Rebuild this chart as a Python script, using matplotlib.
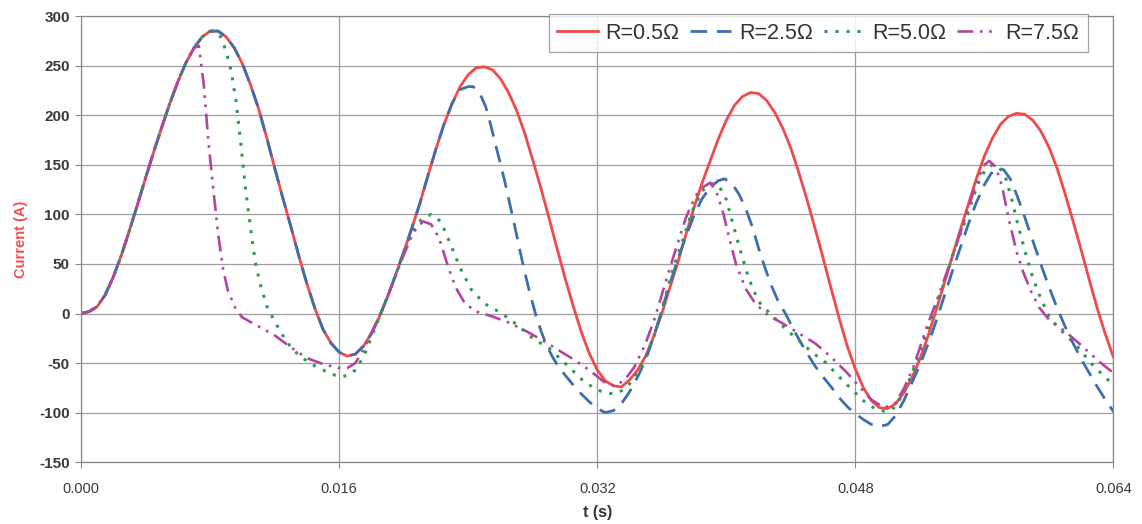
import matplotlib
matplotlib.use("Agg")
import matplotlib.pyplot as plt
import numpy as np
from matplotlib.ticker import FormatStrFormatter, MultipleLocator

plt.rcParams["axes.unicode_minus"] = False

# time samples in ms, current in A
t_r05 = [k * 0.5 for k in range(129)]
i_r05 = [0, 2, 7, 19, 37, 59, 84, 110, 137, 163,
         188, 212, 234, 253, 268, 279, 285, 285, 279, 268,
         252, 231, 207, 178, 147, 117, 88, 58, 30, 5,
         -16, -30, -39, -43, -41, -33, -20, -3, 17, 39,
         62, 86, 111, 139, 166, 191, 212, 229, 241, 248,
         249, 246, 237, 223, 205, 182, 155, 127, 97, 66,
         36, 8, -18, -40, -57, -68, -73, -74, -67, -57,
         -43, -23, 0, 26, 52, 80, 107, 132, 154, 176,
         195, 210, 219, 223, 222, 215, 203, 187, 167, 142,
         115, 86, 56, 25, -5, -33, -56, -75, -88, -95,
         -96, -91, -80, -65, -46, -23, 3, 30, 57, 84,
         110, 136, 159, 177, 191, 199, 202, 201, 195, 184,
         168, 147, 121, 93, 64, 34, 5, -21, -44]

# R=2.5 follows R=0.5 up to 23 ms
t_r25 = t_r05[:47] + [
    23.5, 24, 24.3, 24.7, 25.1, 25.4, 25.7, 26, 26.3, 26.6, 26.9, 27.2, 27.5, 27.8,
    28.2, 28.5, 28.8, 29.2, 29.6, 30, 30.5, 31, 31.5, 32, 32.5, 33, 33.5, 34, 34.5,
    35, 35.5, 36, 36.5, 37, 37.5, 38, 38.5, 39, 39.5, 39.9, 40.4, 40.8, 41.2, 41.6,
    42, 42.4, 42.8, 43.2, 43.7, 44.1, 44.5, 45, 45.5, 46, 46.5, 47, 47.5, 48, 48.5,
    49, 49.5, 50, 50.5, 51, 51.5, 52, 52.5, 53, 53.5, 54, 54.5, 55, 55.5, 56, 56.4,
    56.8, 57.2, 57.6, 58, 58.4, 58.8, 59.2, 59.6, 60, 60.5, 61, 61.5, 62, 62.5, 63,
    63.5, 64]
i_r25 = i_r05[:47] + [
    226, 229, 229, 223, 208, 190, 170, 151, 131, 109, 87, 64, 42, 22,
    -2, -17, -30, -43, -54, -62, -72, -81, -89, -96, -100, -98, -91, -79, -64,
    -47, -23, 3, 30, 55, 78, 99, 116, 127, 134, 136, 130, 120, 106, 88,
    66, 46, 28, 13, -1, -14, -26, -40, -53, -64, -74, -85, -94, -101, -107,
    -112, -114, -112, -103, -88, -70, -52, -31, -8, 17, 42, 66, 90, 112, 130, 141,
    147, 145, 136, 120, 102, 83, 64, 45, 27, 6, -13, -30, -46, -60, -74,
    -87, -99]

# R=5.0 follows R=0.5 up to 8 ms
t_r50 = t_r05[:17] + [
    8.4, 8.7, 9, 9.3, 9.6, 9.9, 10.2, 10.5, 10.8, 11.1, 11.5, 12, 12.5, 13, 13.5, 14,
    14.5, 15, 15.5, 16.1, 16.6, 17, 17.5, 18, 18.65, 19.3, 19.9, 20.5, 21.1, 21.7,
    22.3, 22.9, 23.5, 24.2, 25, 26, 27, 28, 29, 30, 30.5, 31, 31.5, 32, 32.5, 33,
    33.5, 34, 34.5, 35, 35.5, 36, 36.6, 37.3, 37.9, 38.5, 39.1, 39.5, 40, 40.5,
    40.9, 41.4, 42, 42.9, 43.7, 44.5, 45.3, 46.2, 47, 47.8, 48.5, 49.2, 49.9, 50.4,
    50.9, 51.4, 51.9, 52.4, 52.9, 53.5, 54, 54.5, 54.9, 55.3, 55.7, 56.1, 56.5, 56.9,
    57.3, 57.7, 58.1, 58.6, 59, 59.5, 60.1, 61, 61.8, 62.6, 63.4, 64]
i_r50 = i_r05[:17] + [
    285, 278, 264, 245, 215, 172, 125, 87, 52, 30, 8, -8, -22, -34, -42, -48,
    -53, -57, -61, -64, -62, -57, -44, -24, 3, 30, 57, 82, 95, 100,
    93, 70, 46, 24, 10, 1, -11, -25, -35, -50, -58, -66, -72, -77, -80, -81,
    -78, -71, -60, -44, -24, 3, 40, 74, 104, 124, 131, 130, 115, 85,
    62, 35, 12, -3, -16, -27, -39, -50, -64, -77, -88, -96, -99, -95,
    -83, -65, -44, -20, 4, 31, 57, 80, 97, 117, 135, 146, 150, 148,
    138, 115, 88, 58, 36, 15, -6, -21, -34, -50, -63, -72]

# R=7.5 follows R=0.5 up to 7 ms
t_r75 = t_r05[:15] + [
    7.3, 7.6, 7.9, 8.2, 8.5, 8.8, 9.1, 9.6, 10, 11, 12, 13, 14, 15, 16, 16.5, 17,
    17.5, 18, 18.5, 19, 19.5, 20, 20.6, 21.2, 21.7, 22.2, 22.7, 23.2, 23.8, 24.5,
    25.5, 26.5, 27.5, 28.5, 29.5, 30.5, 31.5, 32.5, 33.1, 33.7, 34.3, 35, 35.6,
    36.2, 36.85, 37.5, 38.1, 38.6, 39, 39.4, 39.8, 40.2, 40.6, 41.2, 41.8, 42.6,
    43.5, 44.5, 45.5, 46.5, 47.5, 48.3, 49, 49.8, 50.5, 51, 51.6, 52.4, 53.2, 54,
    54.9, 55.5, 56, 56.3, 56.7, 57.1, 57.5, 58, 58.4, 58.9, 59.4, 60, 61, 62, 63, 64]
i_r75 = i_r05[:15] + [
    270, 232, 172, 125, 80, 45, 23, 4, -4, -13, -22, -34, -45, -51, -55, -55, -50,
    -37, -20, -2, 17, 38, 59, 82, 93, 90, 76, 50, 27, 10, 2,
    -3, -9, -17, -26, -36, -46, -57, -70, -73, -67, -54, -30, -3,
    30, 64, 97, 119, 128, 132, 122, 102, 75, 50, 25, 10, -2,
    -10, -20, -30, -44, -60, -75, -87, -95, -90, -76, -54, -15, 20, 57,
    101, 132, 150, 154, 148, 128, 96, 62, 42, 22, 6, -6, -18, -32, -47, -60]

labels = ["R=0.5\u03a9", "R=2.5\u03a9", "R=5.0\u03a9", "R=7.5\u03a9"]

fig = plt.figure(figsize=(11.42, 5.24), dpi=100)
ax = fig.add_axes([0.071, 0.118, 0.904, 0.851])

ax.plot(np.array(t_r05) / 1000, i_r05, color="#f04a4a", lw=2.0, label=labels[0])
ax.plot(np.array(t_r25) / 1000, i_r25, color="#3d6fae", lw=2.0,
        dashes=(6, 3.5), label=labels[1])
ax.plot(np.array(t_r50) / 1000, i_r50, color="#2f9a4f", lw=2.2,
        dashes=(1, 2.6), label=labels[2])
ax.plot(np.array(t_r75) / 1000, i_r75, color="#b3449f", lw=1.9,
        dashes=(6, 2.5, 1, 2.5, 1, 2.5), label=labels[3])

ax.set_xlim(0, 0.064)
ax.set_ylim(-150, 300)
ax.xaxis.set_major_locator(MultipleLocator(0.016))
ax.xaxis.set_major_formatter(FormatStrFormatter("%.3f"))
ax.yaxis.set_major_locator(MultipleLocator(50))

ax.grid(True, color="#9e9e9e", lw=0.9)
ax.set_axisbelow(True)
for side in ["top", "right", "left", "bottom"]:
    ax.spines[side].set_color("#8a8a8a")
    ax.spines[side].set_linewidth(0.9)
ax.tick_params(axis="both", direction="out", length=4, color="#8a8a8a",
               labelcolor="#3a3a3a")
ax.tick_params(axis="y", labelsize=11, pad=4)
ax.tick_params(axis="x", labelsize=10.5, pad=10)
for lab in ax.get_yticklabels():
    lab.set_fontfamily("Liberation Sans")
    lab.set_fontweight("bold")
for lab in ax.get_xticklabels():
    lab.set_fontfamily("Liberation Sans")

ax.set_ylabel("Current (A)", color="#f05050", fontsize=10.5, fontweight="bold",
              family="Liberation Sans", labelpad=8)
ax.set_xlabel("t (s)", color="#333333", fontsize=11.5, fontweight="bold",
              family="Liberation Sans", labelpad=7)

leg = ax.legend(loc="upper right", bbox_to_anchor=(0.975, 1.005), ncol=4,
                frameon=True, fancybox=False, edgecolor="#8a8a8a",
                borderaxespad=0, handlelength=1.9, handletextpad=0.35,
                columnspacing=0.5, borderpad=0.4,
                prop={"family": "Liberation Sans", "size": 15.5})
leg.get_frame().set_linewidth(0.9)
for txt in leg.get_texts():
    txt.set_color("#333333")

fig.savefig("out.png", dpi=100, facecolor="white")
